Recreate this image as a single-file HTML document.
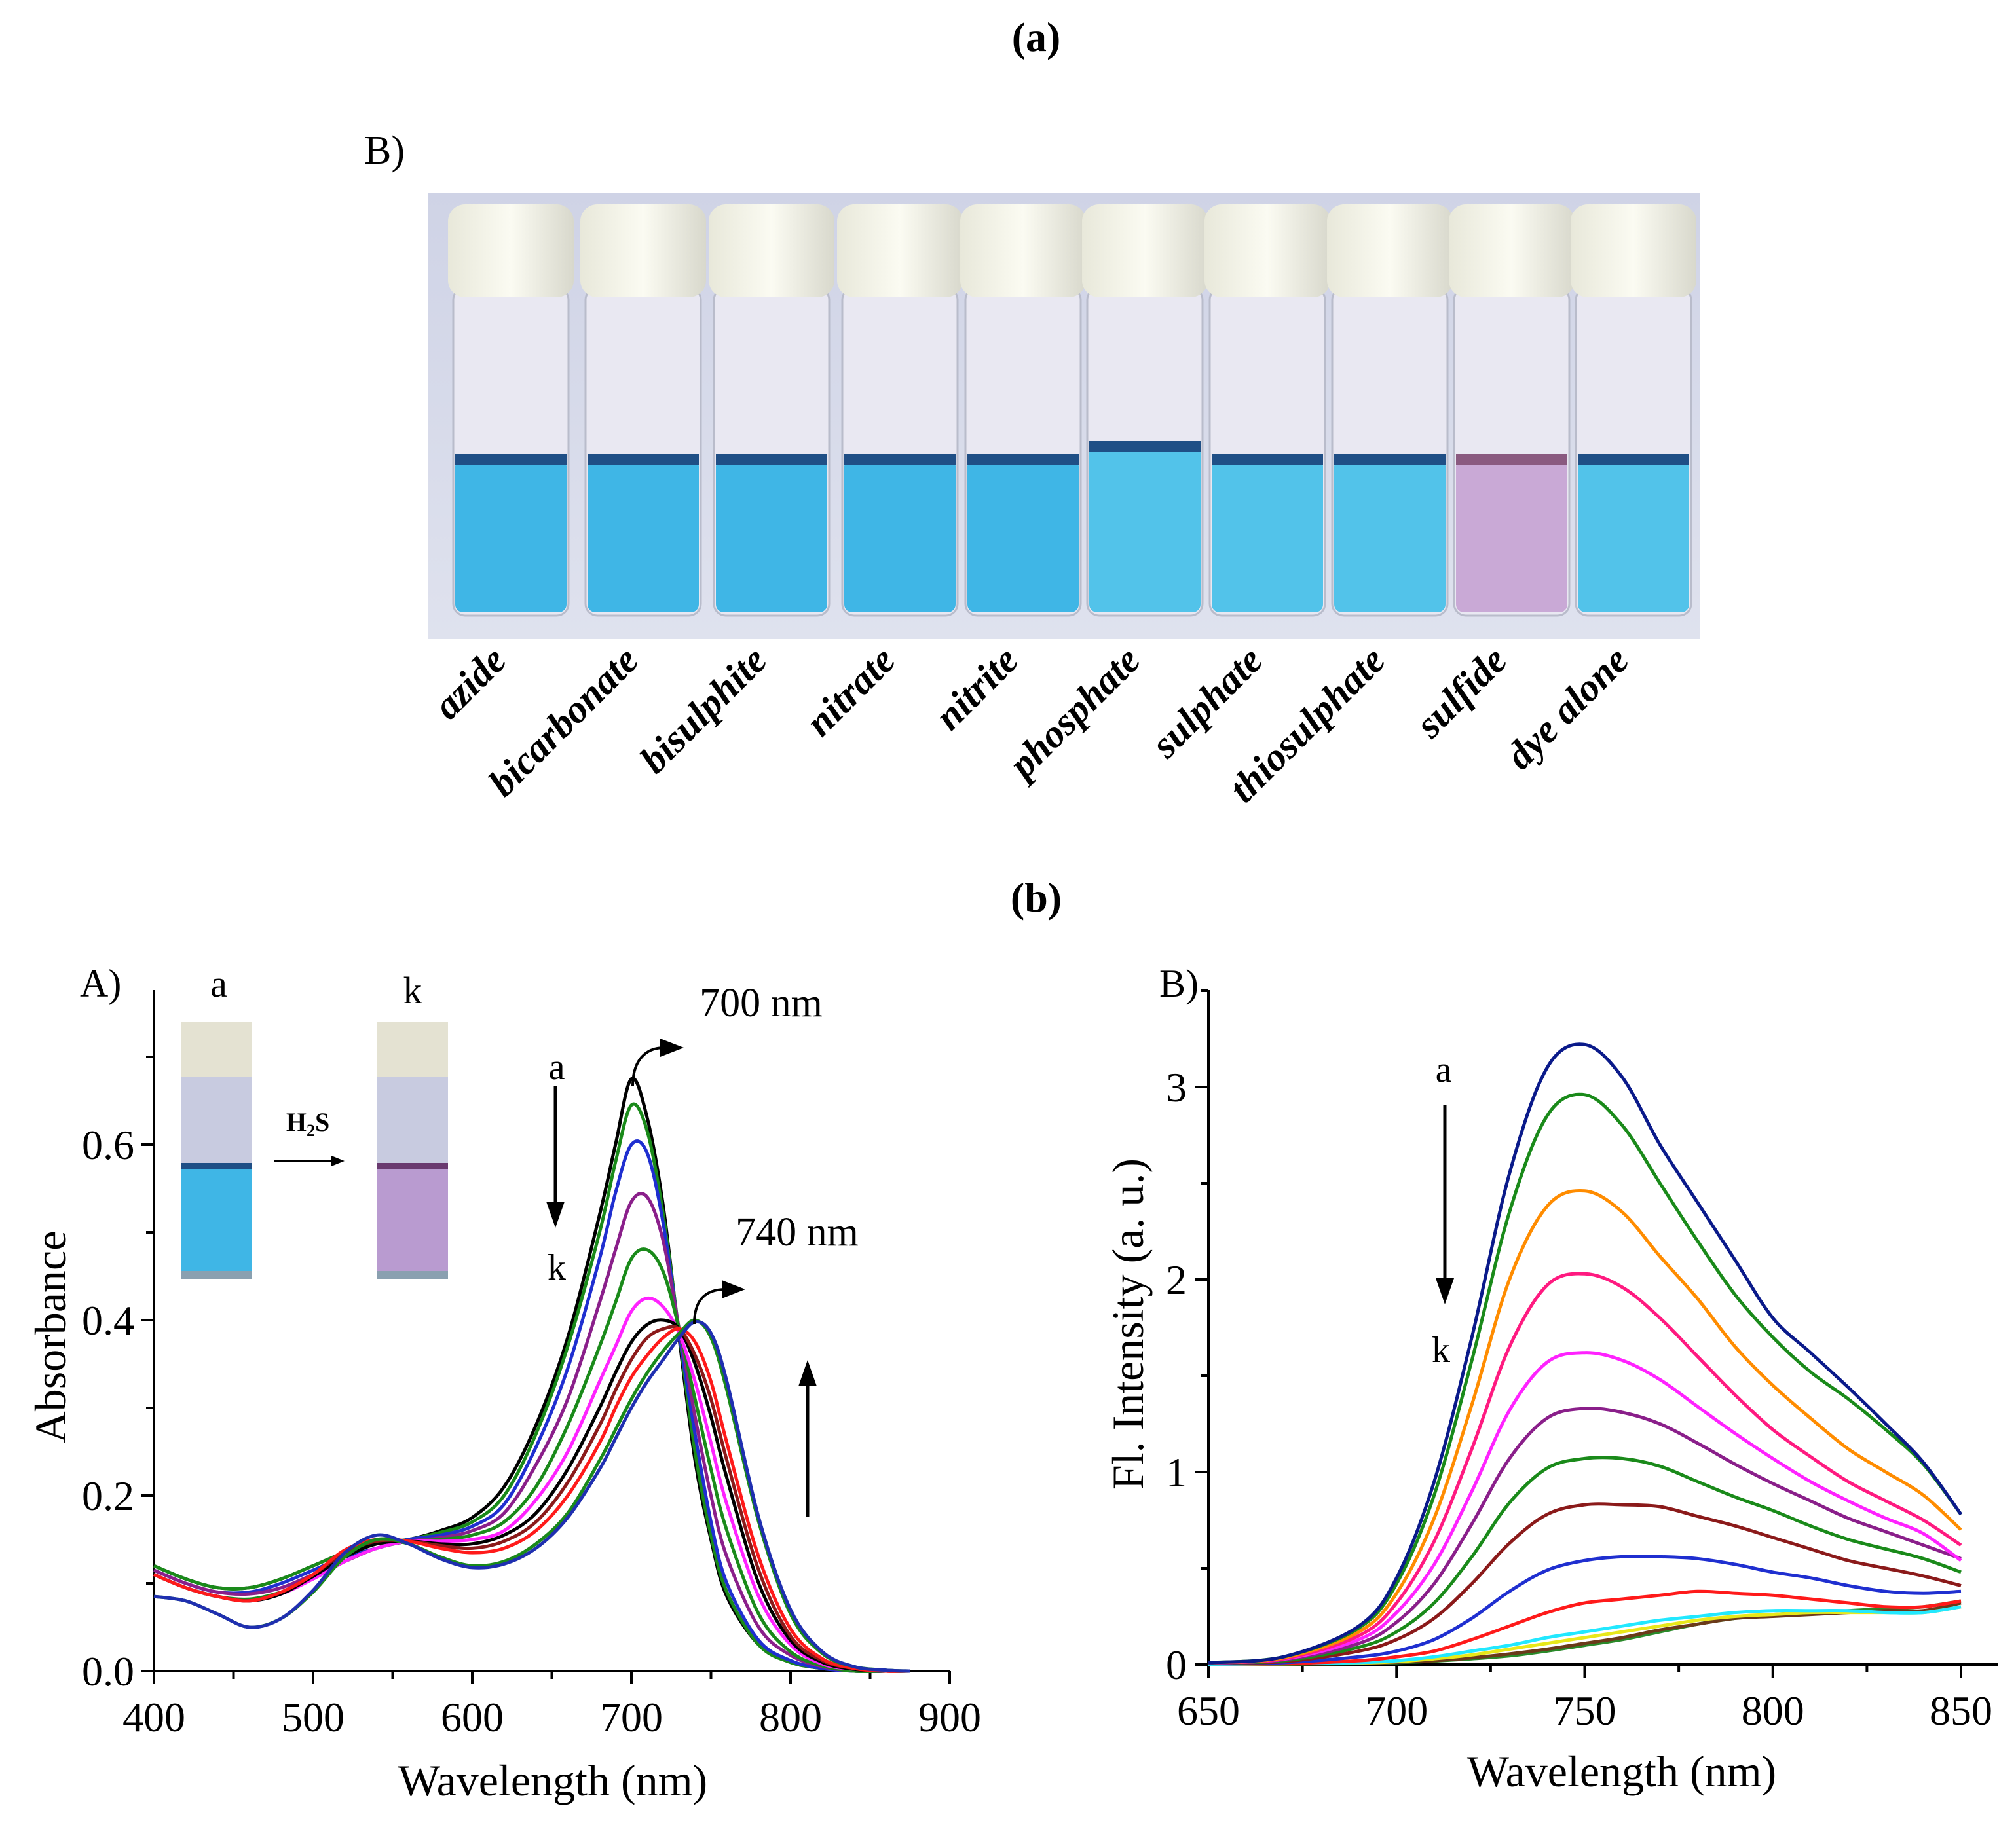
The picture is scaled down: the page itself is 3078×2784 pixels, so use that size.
<!DOCTYPE html>
<html><head><meta charset="utf-8"><style>
html,body{margin:0;padding:0;background:#fff;}
svg{display:block;font-family:"Liberation Serif",serif;}
</style></head><body>
<svg id="fig" width="3078" height="2784" viewBox="0 0 3078 2784" xmlns="http://www.w3.org/2000/svg">
<defs>
<linearGradient id="capg" x1="0" x2="1"><stop offset="0" stop-color="#e8e8da"/><stop offset="0.5" stop-color="#fbfbf2"/><stop offset="1" stop-color="#d8d8cc"/></linearGradient>
<linearGradient id="bgg" x1="0" x2="0" y1="0" y2="1"><stop offset="0" stop-color="#cfd3e6"/><stop offset="1" stop-color="#dfe2ee"/></linearGradient>
</defs>
<text x="1582" y="78" font-size="64" font-weight="bold" text-anchor="middle">(a)</text>
<text x="556" y="250" font-size="62">B)</text>
<g id="photo"></g>
<g id="anions"></g>
<text x="1582" y="1392" font-size="64" font-weight="bold" text-anchor="middle">(b)</text>
<g id="chartA"></g>
<g id="chartB"></g>
</svg>
<script>
const NS="http://www.w3.org/2000/svg";
function mk(parent,tag,attrs,text){const e=document.createElementNS(NS,tag);for(const k in attrs)e.setAttribute(k,attrs[k]);if(text!==undefined)e.textContent=text;parent.appendChild(e);return e;}

// ---------- Photo ----------
const anionNames=["azide","bicarbonate","bisulphite","nitrate","nitrite","phosphate","sulphate","thiosulphate","sulfide","dye alone"];
const vialCenters=[780,982,1178,1374,1562,1748,1935,2122,2308,2494];
const photo=document.getElementById('photo');
const bg=mk(photo,'rect',{x:654,y:294,width:1941,height:682,fill:'url(#bgg)'});


anionNames.forEach((n,i)=>{
  const cx=vialCenters[i], w=176;
  const g=mk(photo,'g',{});
  
  
  const liqTop = i===5?680:700;
  mk(g,'rect',{x:cx-w/2,y:440,width:w,height:500,rx:18,fill:'#e9e8f2',stroke:'#b9bccb','stroke-width':3});
  const liq = i===8?'#c9a9d6':(i>=5?'#52c3ea':'#3fb6e6');
  mk(g,'rect',{x:cx-w/2+3,y:liqTop,width:w-6,height:935-liqTop,rx:12,fill:liq});
  mk(g,'rect',{x:cx-w/2+3,y:liqTop-6,width:w-6,height:16,fill:i===8?'#8a5a80':'#1f4f86'});
  mk(g,'rect',{x:cx-w/2-8,y:312,width:w+16,height:142,rx:26,fill:'url(#capg)'});
});
const anions=document.getElementById('anions');
anionNames.forEach((n,i)=>{
  const x=vialCenters[i]-4, y=1012;
  const t=mk(anions,'text',{x:x,y:y,'font-size':60,'font-weight':'bold','font-style':'italic','text-anchor':'end',transform:`rotate(-45 ${x} ${y})`},n);
  
  
});

// ---------- Chart A data ----------
const wlA=[400,420,440,460,480,500,520,540,560,580,600,620,640,660,680,690,700,710,720,730,740,750,760,780,800,820,840,860,875];
const absA=[0.12,0.105,0.095,0.095,0.105,0.12,0.135,0.145,0.15,0.16,0.175,0.21,0.28,0.38,0.52,0.60,0.675,0.63,0.53,0.38,0.24,0.15,0.085,0.03,0.01,0.003,0,0,0];
const absB=[0.12,0.105,0.095,0.095,0.105,0.12,0.135,0.145,0.15,0.158,0.17,0.20,0.27,0.37,0.50,0.58,0.645,0.615,0.52,0.385,0.25,0.155,0.09,0.03,0.01,0.003,0,0,0];
const absC=[0.115,0.10,0.09,0.09,0.10,0.115,0.13,0.14,0.15,0.155,0.165,0.19,0.255,0.345,0.47,0.545,0.60,0.59,0.51,0.385,0.27,0.17,0.10,0.035,0.012,0.003,0,0,0];
const absD=[0.115,0.1,0.09,0.088,0.095,0.11,0.125,0.14,0.148,0.152,0.16,0.18,0.235,0.31,0.42,0.48,0.535,0.54,0.49,0.39,0.29,0.20,0.13,0.05,0.018,0.005,0,0,0];
const absE=[0.11,0.095,0.085,0.082,0.09,0.105,0.125,0.14,0.148,0.15,0.155,0.17,0.21,0.28,0.37,0.42,0.47,0.48,0.455,0.39,0.31,0.23,0.16,0.065,0.022,0.006,0,0,0];
const absF=[0.11,0.095,0.085,0.08,0.088,0.105,0.125,0.14,0.148,0.148,0.15,0.16,0.195,0.25,0.33,0.37,0.41,0.425,0.415,0.385,0.33,0.26,0.19,0.085,0.03,0.008,0.002,0,0];
const absG=[0.11,0.095,0.085,0.08,0.088,0.108,0.13,0.145,0.148,0.145,0.145,0.155,0.18,0.23,0.30,0.34,0.375,0.395,0.40,0.39,0.35,0.29,0.22,0.10,0.035,0.01,0.002,0,0];
const absH=[0.11,0.095,0.085,0.08,0.09,0.11,0.135,0.148,0.148,0.143,0.14,0.148,0.17,0.215,0.28,0.32,0.355,0.38,0.39,0.39,0.36,0.31,0.24,0.115,0.04,0.012,0.003,0,0];
const absI=[0.11,0.095,0.085,0.08,0.09,0.11,0.138,0.15,0.148,0.14,0.135,0.14,0.16,0.20,0.26,0.30,0.335,0.36,0.38,0.39,0.375,0.33,0.26,0.13,0.048,0.014,0.003,0,0];
const absJ=[0.085,0.08,0.065,0.05,0.06,0.09,0.13,0.15,0.145,0.13,0.12,0.125,0.145,0.18,0.24,0.275,0.31,0.34,0.365,0.385,0.40,0.38,0.32,0.17,0.065,0.02,0.005,0.001,0];
const absK=[0.085,0.08,0.065,0.05,0.06,0.092,0.135,0.155,0.145,0.128,0.118,0.122,0.14,0.175,0.23,0.265,0.30,0.33,0.355,0.38,0.398,0.385,0.33,0.175,0.07,0.022,0.005,0.001,0];
const seriesA=[absA,absB,absC,absD,absE,absF,absG,absH,absI,absJ,absK];
const colorsA=['#000000','#1a8a1a','#1f2fd0','#8a1f8a','#1a8a1a','#ff22ff','#000000','#8b1a1a','#ff1a1a','#1a8a1a','#1f2fb0'];
const xTicksA=[400,500,600,700,800,900];
const yTicksA=[0.0,0.2,0.4,0.6];

// ---------- Chart B data ----------
const wlB=[650,670,690,700,710,720,730,740,750,760,770,780,790,800,810,820,830,840,850];
const fl1=[0.01,0.04,0.2,0.45,0.95,1.7,2.55,3.1,3.22,3.05,2.7,2.4,2.1,1.8,1.62,1.44,1.25,1.05,0.78];
const fl2=[0.01,0.04,0.19,0.42,0.88,1.58,2.35,2.85,2.96,2.8,2.5,2.2,1.92,1.7,1.52,1.38,1.22,1.04,0.78];
const fl3=[0.01,0.035,0.17,0.37,0.76,1.35,2.0,2.38,2.46,2.35,2.12,1.9,1.65,1.45,1.28,1.12,1.0,0.88,0.7];
const fl4=[0.01,0.03,0.15,0.32,0.64,1.12,1.65,1.97,2.03,1.96,1.8,1.6,1.4,1.22,1.08,0.95,0.85,0.75,0.62];
const fl5=[0.01,0.028,0.13,0.27,0.52,0.9,1.32,1.57,1.62,1.58,1.48,1.34,1.2,1.07,0.95,0.85,0.76,0.68,0.54];
const fl6=[0.01,0.025,0.11,0.22,0.42,0.73,1.07,1.28,1.33,1.31,1.25,1.15,1.04,0.94,0.85,0.76,0.69,0.62,0.55];
const fl7=[0.01,0.02,0.09,0.17,0.32,0.56,0.84,1.02,1.07,1.07,1.03,0.95,0.87,0.8,0.72,0.65,0.6,0.55,0.48];
const fl8=[0.01,0.015,0.07,0.13,0.24,0.42,0.63,0.78,0.83,0.83,0.82,0.77,0.72,0.66,0.6,0.54,0.5,0.46,0.41];
const fl9=[0.005,0.01,0.04,0.07,0.13,0.24,0.38,0.49,0.54,0.56,0.56,0.55,0.52,0.48,0.45,0.41,0.38,0.37,0.38];
const fl10=[0.005,0.005,0.02,0.04,0.07,0.13,0.2,0.27,0.32,0.34,0.36,0.38,0.37,0.36,0.34,0.32,0.3,0.3,0.33];
const fl11=[0,0.005,0.01,0.02,0.04,0.07,0.1,0.14,0.17,0.2,0.23,0.25,0.27,0.28,0.28,0.28,0.27,0.27,0.3];
const fl12=[0,0.004,0.008,0.015,0.03,0.05,0.08,0.11,0.14,0.17,0.2,0.23,0.25,0.26,0.27,0.27,0.27,0.27,0.3];
const fl13=[0,0.003,0.006,0.012,0.02,0.035,0.055,0.08,0.11,0.14,0.18,0.21,0.24,0.25,0.26,0.27,0.28,0.28,0.32];
const fl14=[0,0.002,0.005,0.01,0.018,0.03,0.045,0.07,0.1,0.13,0.17,0.21,0.24,0.26,0.27,0.28,0.29,0.3,0.33];
const seriesB=[fl1,fl2,fl3,fl4,fl5,fl6,fl7,fl8,fl9,fl10,fl11,fl12,fl13,fl14];
const colorsB=['#0a1a8a','#1a8a1a','#ff8c00','#ff1a80','#ff22ff','#8a1f8a','#1a8a1a','#8b1a1a','#1f2fd0','#ff1a1a','#22e8ff','#e8e81a','#6b3a1a','#2a8a2a'];
const xTicksB=[650,700,750,800,850];
const yTicksB=[0,1,2,3];

// ---------- draw helpers ----------
function axisFn(d0,d1,p0,p1){return v=>p0+(v-d0)/(d1-d0)*(p1-p0);}
function drawSeries(g,xs,ys,X,Y,color,name){
  const P=xs.map((x,i)=>[X(x),Y(ys[i])]);
  let d='M'+P[0][0].toFixed(1)+' '+P[0][1].toFixed(1);
  for(let i=0;i<P.length-1;i++){
    const p0=P[Math.max(0,i-1)],p1=P[i],p2=P[i+1],p3=P[Math.min(P.length-1,i+2)];
    const c1=[p1[0]+(p2[0]-p0[0])/6,p1[1]+(p2[1]-p0[1])/6];
    const c2=[p2[0]-(p3[0]-p1[0])/6,p2[1]-(p3[1]-p1[1])/6];
    d+=`C${c1[0].toFixed(1)} ${c1[1].toFixed(1)} ${c2[0].toFixed(1)} ${c2[1].toFixed(1)} ${p2[0].toFixed(1)} ${p2[1].toFixed(1)}`;
  }
  const p=mk(g,'path',{d:d,fill:'none',stroke:color,'stroke-width':5,'stroke-linejoin':'round'});
  
  
}
function arrow(g,x1,y1,x2,y2,name,w,hw,hl){
  const a=mk(g,'g',{});
  
  
  const dx=x2-x1,dy=y2-y1,L=Math.hypot(dx,dy),ux=dx/L,uy=dy/L;
  const bx=x2-ux*hl,by=y2-uy*hl;
  mk(a,'line',{x1:x1,y1:y1,x2:bx,y2:by,stroke:'#000','stroke-width':w});
  mk(a,'polygon',{points:`${x2},${y2} ${bx-uy*hw},${by+ux*hw} ${bx+uy*hw},${by-ux*hw}`,fill:'#000'});
}

// ---------- Chart A ----------
(function(){
  const g=document.getElementById('chartA');
  const X=axisFn(400,900,235,1450), Y=axisFn(0,0.2,2552,2284);
  const yTop=1512;
  const ax=mk(g,'path',{d:`M235 ${yTop} L235 2552 L1450 2552`,fill:'none',stroke:'#000','stroke-width':4});
  
  
  for(let v=400;v<=900;v+=50){mk(g,'line',{x1:X(v),x2:X(v),y1:2552,y2:2552+(v%100===0?20:12),stroke:'#000','stroke-width':4});}
  for(let k=0;k<=7;k++){const v=k*0.1;mk(g,'line',{x1:235,x2:235-(k%2===0?20:12),y1:Y(v),y2:Y(v),stroke:'#000','stroke-width':4});}
  xTicksA.forEach(v=>{const t=mk(g,'text',{x:X(v),y:2644,'font-size':64,'text-anchor':'middle'},String(v));
    
    });
  yTicksA.forEach(v=>{const t=mk(g,'text',{x:205,y:Y(v)+22,'font-size':64,'text-anchor':'end'},v.toFixed(1));
    
    });
  const xt=mk(g,'text',{x:844,y:2742,'font-size':68,'text-anchor':'middle'},'Wavelength (nm)');
  
  
  const yt=mk(g,'text',{x:100,y:2042,'font-size':68,'text-anchor':'middle',transform:'rotate(-90 100 2042)'},'Absorbance');
  
  
  seriesA.forEach((s,i)=>drawSeries(g,wlA,s,X,Y,colorsA[i],'absorbance-curve-'+String.fromCharCode(97+i)));
  const lab=(x,y,s,fs,name,extra)=>{const t=mk(g,'text',Object.assign({x:x,y:y,'font-size':fs},extra||{}),s);return t;};
  lab(122,1522,'A)',60,'panel-A-label');
  lab(334,1522,'a',58,'inset-label-a',{'text-anchor':'middle'});
  lab(630,1532,'k',58,'inset-label-k',{'text-anchor':'middle'});
  lab(1162,1552,'700 nm',62,'peak-700-label',{'text-anchor':'middle'});
  lab(1217,1902,'740 nm',62,'peak-740-label',{'text-anchor':'middle'});
  lab(850,1648,'a',56,'trend-label-a',{'text-anchor':'middle'});
  lab(850,1954,'k',56,'trend-label-k',{'text-anchor':'middle'});
  const h=lab(470,1727,'H',40,'h2s-label',{'text-anchor':'middle','font-weight':'bold'});
  h.textContent='';
  mk(h,'tspan',{},'H');mk(h,'tspan',{'font-size':26,dy:8},'2');mk(h,'tspan',{dy:-8},'S');
  arrow(g,418,1773,526,1773,'h2s-arrow',3,8,20);
  arrow(g,848,1659,848,1875,'decrease-arrow',5,14,40);
  arrow(g,1233,2316,1233,2077,'increase-arrow',5,14,40);
  [[966,1659,1044,1600,'peak-700-arrow'],[1060,2022,1138,1969,'peak-740-arrow']].forEach(c=>{
    const a=mk(g,'g',{});
    mk(a,'path',{d:`M${c[0]} ${c[1]} C${c[0]} ${c[1]-40} ${c[0]+20} ${c[3]} ${c[2]-30} ${c[3]}`,fill:'none',stroke:'#000','stroke-width':4});
    mk(a,'polygon',{points:`${c[2]},${c[3]} ${c[2]-36},${c[3]-14} ${c[2]-36},${c[3]+14}`,fill:'#000'});
  });
  [[277,'#3fb6e6','#1f4f86','inset-vial-a'],[576,'#b99bd0','#6a3a70','inset-vial-k']].forEach(v=>{
    const vg=mk(g,'g',{});
    mk(vg,'rect',{x:v[0],y:1561,width:108,height:392,fill:'#c8cbe0'});
    mk(vg,'rect',{x:v[0],y:1561,width:108,height:84,fill:'#e4e2d2'});
    mk(vg,'rect',{x:v[0],y:1780,width:108,height:165,fill:v[1]});
    mk(vg,'rect',{x:v[0],y:1776,width:108,height:9,fill:v[2]});
    mk(vg,'rect',{x:v[0],y:1941,width:108,height:12,fill:'#8aa0b0'});
  });
})();

// ---------- Chart B ----------
(function(){
  const g=document.getElementById('chartB');
  const X=axisFn(650,850,1845,2994), Y=axisFn(0,1,2542,2248);
  const ax=mk(g,'path',{d:`M1845 1512 L1845 2542 L3050 2542`,fill:'none',stroke:'#000','stroke-width':4});
  
  
  for(let v=650;v<=860;v+=25){mk(g,'line',{x1:X(v),x2:X(v),y1:2542,y2:2542+(v%50===0?20:12),stroke:'#000','stroke-width':4});}
  for(let k=0;k<=7;k++){const v=k*0.5;mk(g,'line',{x1:1845,x2:1845-(k%2===0?20:12),y1:Y(v),y2:Y(v),stroke:'#000','stroke-width':4});}
  xTicksB.forEach(v=>{const t=mk(g,'text',{x:X(v),y:2634,'font-size':64,'text-anchor':'middle'},String(v));
    
    });
  yTicksB.forEach(v=>{const t=mk(g,'text',{x:1812,y:Y(v)+22,'font-size':64,'text-anchor':'end'},String(v));
    
    });
  const xt=mk(g,'text',{x:2476,y:2728,'font-size':68,'text-anchor':'middle'},'Wavelength (nm)');
  
  
  const yt=mk(g,'text',{x:1745,y:2022,'font-size':68,'text-anchor':'middle',transform:'rotate(-90 1745 2022)'},'Fl. Intensity (a. u.)');
  
  
  for(let i=seriesB.length-1;i>=0;i--)drawSeries(g,wlB,seriesB[i],X,Y,colorsB[i],'fluorescence-curve-'+(i+1));
  const lab=(x,y,s,fs,name)=>{const t=mk(g,'text',{x:x,y:y,'font-size':fs,'text-anchor':'middle'},s);};
  lab(1800,1522,'B)',60,'panel-B-label');
  lab(2204,1652,'a',56,'trend-label-a');
  lab(2200,2080,'k',56,'trend-label-k');
  arrow(g,2206,1688,2206,1992,'decrease-arrow',5,14,40);
})();
</script>
</body></html>
